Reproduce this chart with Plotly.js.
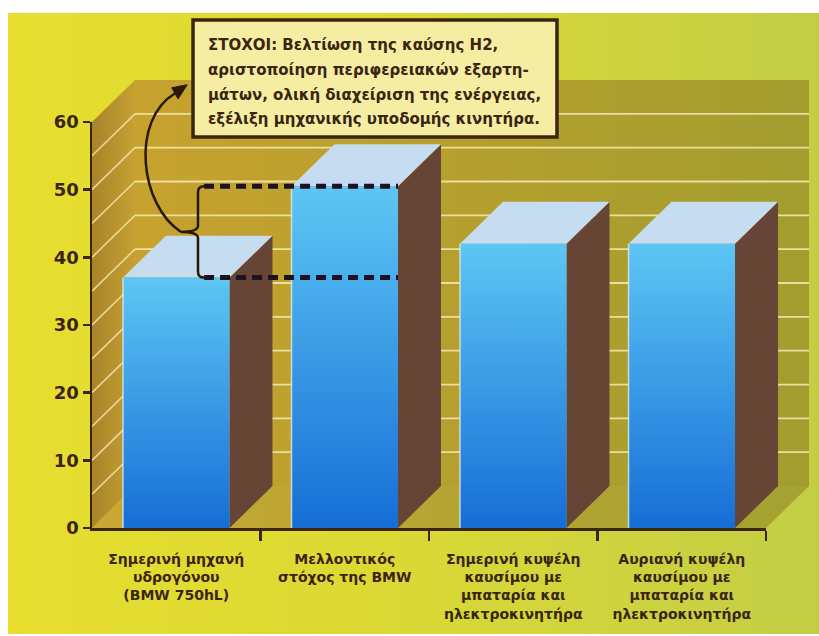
<!DOCTYPE html>
<html><head><meta charset="utf-8">
<script src="https://cdn.plot.ly/plotly-3.0.1.min.js"></script>
<style>
html,body{margin:0;padding:0;background:#fff;}
#bg{position:absolute;left:8px;top:13px;width:811px;height:621px;background:linear-gradient(to right,#e7de2f 0%,#dcd934 45%,#c3ce45 100%);}
#chart{position:absolute;left:0;top:0;width:819px;height:636px;}
</style></head><body><div id="bg"></div><div id="chart"></div>
<script>
// ---- data ----
const categories = [
  "Σημερινή μηχανή<br>υδρογόνου<br>(BMW 750hL)",
  "Μελλοντικός<br>στόχος της BMW",
  "Σημερινή κυψέλη<br>καυσίμου με<br>μπαταρία και<br>ηλεκτροκινητήρα",
  "Αυριανή κυψέλη<br>καυσίμου με<br>μπαταρία και<br>ηλεκτροκινητήρα"
];
const values = [37, 50.5, 42, 42];
const yTickVals = [0, 10, 20, 30, 40, 50, 60];
const noteLines = [
  "ΣΤΟΧΟΙ: Βελτίωση της καύσης Η2,",
  "αριστοποίηση περιφερειακών εξαρτη-",
  "μάτων, ολική διαχείριση της ενέργειας,",
  "εξέλιξη μηχανικής υποδομής κινητήρα."
];

// ---- geometry / style ----
const TXT = '#3a2412';
const DX = 0.255, DY = 6.2, W = 0.632;
const XL = -0.5, XR = categories.length - 0.5, YTOP = 60;
const FONT = 'DejaVu Sans';

const traces = [];
function poly(xs, ys, opts) {
  const t = Object.assign({x: xs, y: ys, mode: 'lines', fill: 'toself',
    line: {width: 0}, hoverinfo: 'skip', showlegend: false}, opts);
  traces.push(t);
}
// back wall
poly([XL+DX, XR+DX, XR+DX, XL+DX, XL+DX], [DY, DY, YTOP+DY, YTOP+DY, DY],
  {fillgradient: {type: 'horizontal', colorscale: [[0, '#c7a22e'], [1, '#a29d2e']]}});
// floor
poly([XL, XR, XR+DX, XL+DX, XL], [0, 0, DY, DY, 0],
  {fillgradient: {type: 'horizontal', colorscale: [[0, '#c9a734'], [1, '#a3a232']]}});
// left wall
poly([XL, XL+DX, XL+DX, XL, XL], [0, DY, YTOP+DY, YTOP, 0],
  {fillgradient: {type: 'horizontal', colorscale: [[0, '#a8842a'], [1, '#c6a132']]}});
// grid lines (back wall + left wall)
const gx = [], gy = [], lx = [], ly = [];
for (let v = 5; v < YTOP; v += 5) {
  gx.push(XL+DX, XR+DX, null); gy.push(v+DY, v+DY, null);
  lx.push(XL, XL+DX, null); ly.push(v, v+DY, null);
}
traces.push({x: gx, y: gy, mode: 'lines', line: {color: 'rgba(246,234,178,0.85)', width: 1.8}, hoverinfo: 'skip', showlegend: false});
traces.push({x: lx, y: ly, mode: 'lines', line: {color: 'rgba(246,234,178,0.8)', width: 1.6}, hoverinfo: 'skip', showlegend: false});

// bars
values.forEach((v, i) => {
  const x0 = i - W/2, x1 = i + W/2;
  poly([x1, x1+DX, x1+DX, x1, x1], [0, DY, v+DY, v, 0], {fillcolor: '#664536'});
  poly([x0, x1, x1+DX, x0+DX, x0], [v, v, v+DY, v+DY, v], {fillcolor: '#c6dcf0'});
  poly([x0, x1, x1, x0, x0], [0, 0, v, v, 0],
    {fillgradient: {type: 'vertical', colorscale: [[0, '#166ed6'], [1, '#5ec6f4']]}});
  traces.push({x: [x0, x0], y: [0, v], mode: 'lines', line: {color: 'rgba(220,240,255,0.75)', width: 1.5}, hoverinfo: 'skip', showlegend: false});
});

// dummy trace for the visible axes subplot
traces.push({x: [null], y: [null], xaxis: 'x2', yaxis: 'y2', mode: 'markers', hoverinfo: 'skip', showlegend: false});

// ---- annotation decorations (brace, dashed guides, curved arrow) ----
const vLow = values[0], vHigh = values[1];
const bx = 0.129, r = 0.036, ry = 0.9, tipX = 0.028;
const mid = (vLow + vHigh) / 2;
const braceX1 = 1 + W/2;
const bracePath = `M ${bx+r},${vHigh} Q ${bx},${vHigh} ${bx},${vHigh-ry} L ${bx},${mid+ry} Q ${bx},${mid} ${tipX},${mid} ` +
  `Q ${bx},${mid} ${bx},${mid-ry} L ${bx},${vLow+ry} Q ${bx},${vLow} ${bx+r},${vLow}`;
const arrowPath = `M ${tipX},${mid} C ${tipX-0.243},${mid+3.9} ${tipX-0.302},${mid+16.5} ${tipX-0.035},${mid+20.5}`;
const ex = tipX-0.035, ey = mid+20.5;
const headPath = `M ${ex-0.02},${ey+0.8} L ${ex+0.072},${ey+1.25} L ${ex+0.018},${ey-0.85} Z`;

const shapes = [
  {type: 'line', xref: 'x', yref: 'y', x0: bx+r, x1: braceX1, y0: vHigh, y1: vHigh, line: {color: '#1c1220', width: 5, dash: '10px,6px'}},
  {type: 'line', xref: 'x', yref: 'y', x0: bx+r, x1: braceX1, y0: vLow, y1: vLow, line: {color: '#1c1220', width: 5, dash: '10px,6px'}},
  {type: 'path', xref: 'x', yref: 'y', path: bracePath, line: {color: '#2a1808', width: 2.5}},
  {type: 'path', xref: 'x', yref: 'y', path: arrowPath, line: {color: '#2a1808', width: 2.5}},
  {type: 'path', xref: 'x', yref: 'y', path: headPath, fillcolor: '#2a1808', line: {color: '#2a1808', width: 1}},
  {type: 'rect', xref: 'paper', yref: 'paper', x0: 0.1409, x1: 0.6485, y0: 0.8728, y1: 1.1339,
    fillcolor: '#f5eda2', line: {color: TXT, width: 3.5}}
];
const noteY = [1.0781, 1.0223, 0.9665, 0.9129];
const annotations = noteLines.map((t, k) => ({
  text: t, xref: 'paper', yref: 'paper', x: 0.1590, y: noteY[k], xanchor: 'left', yanchor: 'middle',
  showarrow: false, font: {family: FONT, size: 15, color: TXT, weight: 'bold'}
}));

const layout = {
  width: 819, height: 636,
  margin: {l: 92, r: 10, t: 80, b: 108},
  paper_bgcolor: 'rgba(0,0,0,0)', plot_bgcolor: 'rgba(0,0,0,0)',
  showlegend: false,
  xaxis: {range: [XL, XR+DX], domain: [0, 1], tickvals: [0, 1, 2, 3], ticktext: categories,
    ticks: '', showline: false, showgrid: false, zeroline: false, ticklabelstandoff: 21,
    tickfont: {family: FONT, size: 14, color: TXT, weight: 'bold'}, fixedrange: true},
  yaxis: {range: [0, YTOP+DY], visible: false, fixedrange: true},
  xaxis2: {range: [XL, XR], domain: [0, (XR-XL)/(XR+DX-XL)], anchor: 'y2',
    showline: true, linewidth: 2.5, linecolor: TXT, ticks: 'outside', ticklen: 10, tickwidth: 2.5,
    tickcolor: TXT, tickvals: [0.5, 1.5, 2.5, 3.5], showticklabels: false, showgrid: false, zeroline: false, fixedrange: true},
  yaxis2: {range: [0, YTOP], domain: [0, YTOP/(YTOP+DY)], anchor: 'x2',
    showline: true, linewidth: 2.5, linecolor: TXT, ticks: 'outside', ticklen: 7, tickwidth: 2.5,
    tickcolor: TXT, tickvals: yTickVals, showgrid: false, zeroline: false,
    tickfont: {family: FONT, size: 18, color: TXT, weight: 'bold'}, fixedrange: true},
  shapes: shapes,
  annotations: annotations
};
Plotly.newPlot('chart', traces, layout, {displayModeBar: false, staticPlot: true});
</script></body></html>
